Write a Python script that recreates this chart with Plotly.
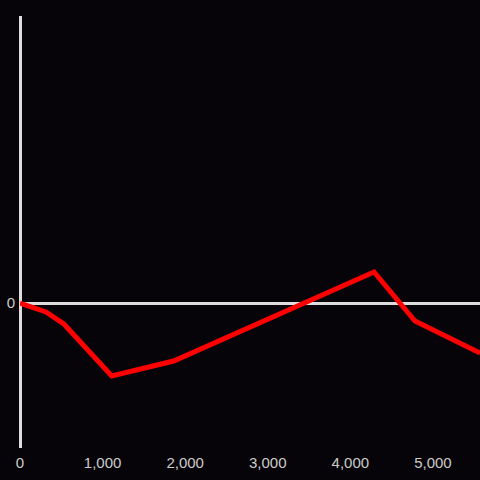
import plotly.graph_objects as go

x_vals = [0, 314, 531, 1111, 1860, 4287, 4783, 5570]
y_vals = [0, -0.09, -0.21, -0.73, -0.58, 0.31, -0.18, -0.50]
x_ticks = [0, 1000, 2000, 3000, 4000, 5000]
x_labels = ["0", "1,000", "2,000", "3,000", "4,000", "5,000"]
y_ticks = [0]
y_labels = ["0"]

fig = go.Figure(go.Scatter(x=x_vals, y=y_vals, mode="lines",
                           line=dict(color="#ff0000", width=5)))
bg = "#060408"
fig.update_layout(
    width=480, height=480,
    margin=dict(l=20, r=0, t=16, b=32),
    paper_bgcolor=bg, plot_bgcolor=bg,
    showlegend=False,
    font=dict(family="Liberation Sans, Arial, sans-serif", size=15, color="#cccccc"),
)
fig.update_xaxes(range=[0, 5570], tickvals=x_ticks, ticktext=x_labels,
                 showgrid=False, zeroline=True, zerolinecolor="#dddddd",
                 zerolinewidth=3, showline=False, ticks="outside",
                 ticklen=1, tickcolor=bg)
fig.update_yaxes(range=[-1.45, 2.87], tickvals=y_ticks, ticktext=y_labels,
                 showgrid=False, zeroline=True, zerolinecolor="#dddddd",
                 zerolinewidth=3, showline=False, ticks="outside",
                 ticklen=1, tickcolor=bg)
fig.write_html("out.html", config={"displayModeBar": False},
               post_script="document.body.style.margin='0';document.body.style.background='#060408';")
